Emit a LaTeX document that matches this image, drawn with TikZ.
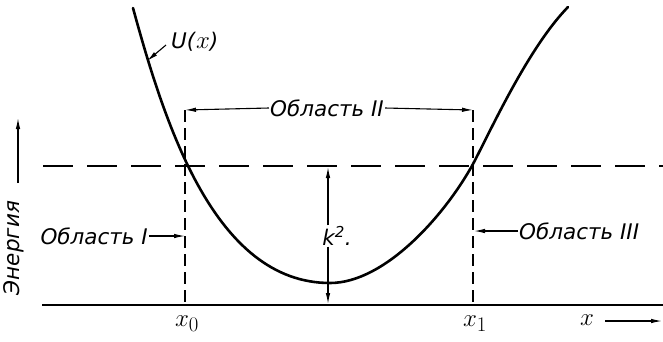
\documentclass[tikz,border=0pt]{standalone}
\usepackage{fontspec}
\setmainfont{DejaVu Sans}
\usetikzlibrary{arrows.meta}
\begin{document}
\begin{tikzpicture}[x=1pt,y=-1pt,
  lab/.style={font=\fontsize{21.5}{24}\selectfont\itshape, inner sep=1pt},
  mlab/.style={font=\fontsize{31}{34}\selectfont, inner sep=1pt},
  arr/.style={-{Latex[length=11pt,width=4.5pt]}, line width=1.1pt},
  vdash/.style={dash pattern=on 12pt off 6pt, line width=1.3pt},
  hdash/.style={dash pattern=on 30pt off 14pt, line width=1.3pt}]
\useasboundingbox (0,0) rectangle (663,341);
% axes
\coordinate (b0) at (42,305);
\coordinate (b1) at (663,305);
\draw[line width=2pt] (b0) -- (b1);
\coordinate (h0) at (43,166);
\coordinate (h1) at (663,166);
\draw[hdash] (h0) -- (h1);
% vertical dashed lines
\coordinate (v0t) at (185,110);
\coordinate (v0b) at (185,305);
\coordinate (v1t) at (473,110);
\coordinate (v1b) at (473,305);
\draw[vdash] (v0t) -- (v0b);
\draw[vdash] (v1t) -- (v1b);
% potential curve
\draw[line width=2.6pt, line cap=round]
  (133,8) .. controls (165,125) and (215,283) .. (330,283)
          .. controls (385,283) and (445,215) .. (473,164)
          .. controls (490,132) and (528,48) .. (568,7);
% U(x)
\node[lab, anchor=west] (U) at (170,42) {U({\fontsize{27}{30}\selectfont\textup{$x$}})};
\coordinate (Ut) at (147,61);
\coordinate (Us) at (166,45);
\draw[arr] (Us) -- (Ut);
% Region II
\node[lab] (r2) at (327,108) {Область II};
\draw[arr] (r2.west) -- (v0t);
\draw[arr] (r2.east) -- (v1t);
% Region I
\node[lab, anchor=east] (r1) at (149,236) {Область I};
\coordinate (p1) at (185,236);
\draw[arr] (r1.east) -- (p1);
% Region III
\node[lab, anchor=west] (r3) at (518,231) {Область III};
\coordinate (p3) at (474,231);
\draw[arr] (r3.west) -- (p3);
% k^2
\node[lab] (k) at (337,236) {k\textsuperscript{2}.};
\coordinate (kt) at (328,167);
\coordinate (kb) at (328,304);
\draw[arr] (k.north -| kt) -- (kt);
\draw[arr] (k.south -| kb) -- (kb);
% energy axis
\node[lab, rotate=90] (E) at (14,248) {Энергия};
\coordinate (Ea) at (18,183);
\coordinate (Eb) at (18,118);
\draw[arr] (Ea) -- (Eb);
% x labels
\node[mlab] (x0) at (187,324) {$x_0$};
\node[mlab] (x1) at (475,324) {$x_1$};
\node[mlab] (x) at (587,320) {$x$};
\coordinate (xe) at (662,321);
\coordinate (xs) at (605,321);
\draw[arr] (xs) -- (xe);
\end{tikzpicture}
\end{document}
